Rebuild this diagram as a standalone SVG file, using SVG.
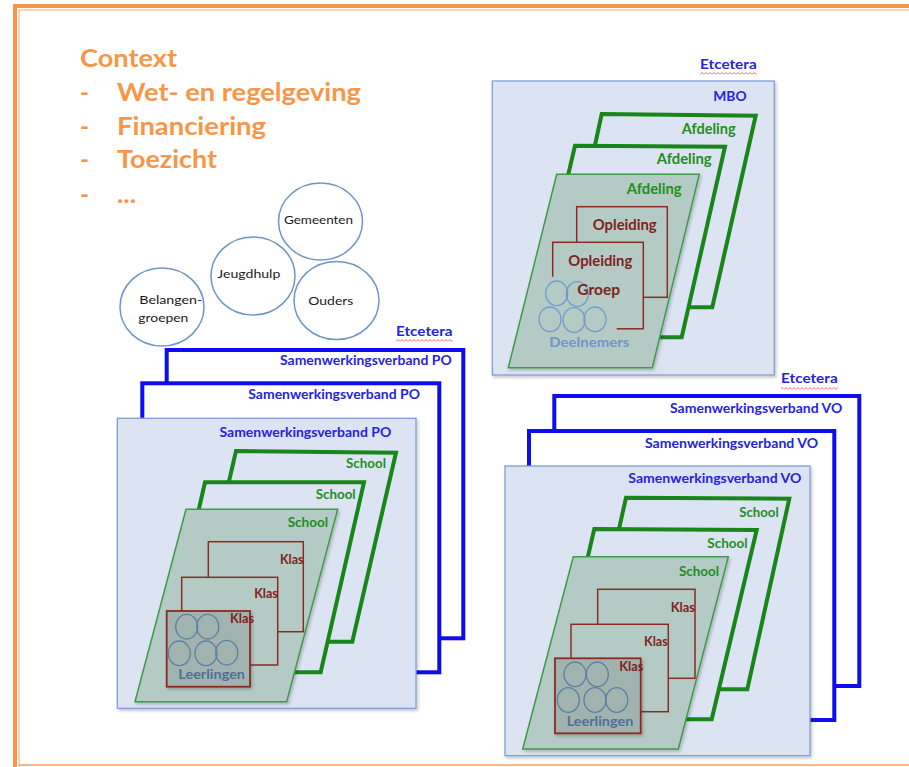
<svg xmlns="http://www.w3.org/2000/svg" width="909" height="767" viewBox="0 0 909 767">
<defs>
<filter id="sh" x="-5%" y="-5%" width="115%" height="115%">
<feDropShadow dx="1.5" dy="2" stdDeviation="1.5" flood-color="#000" flood-opacity="0.22"/>
</filter>
<pattern id="wave" width="4" height="3" patternUnits="userSpaceOnUse">
<path d="M0,2.5 L2,0.5 L4,2.5" fill="none" stroke="#e33b3b" stroke-width="0.8"/>
</pattern>
</defs>
<style>
text{font-family:Lato,"Liberation Sans",sans-serif;}
.ctx{font-size:24px;font-weight:bold;fill:#f79646;}
.cl{font-size:12px;fill:#1a1a1a;}
.circ{fill:#fff;stroke:#6f95c8;stroke-width:1.5;}
.blue{fill:#fff;stroke:#0d0df0;stroke-width:4;}
.cont{fill:#dce3f3;stroke:#7f9fd3;stroke-width:1.3;}
.green{fill:#dce3f3;stroke:#19861a;stroke-width:4;}
.para{fill:#b4cac5;stroke:#3d9b4a;stroke-width:1.5;}
.red{fill:#b4cac5;stroke:#8c2b24;stroke-width:1.5;}
.redf{fill:#a0b3ae;stroke:#8c2b24;stroke-width:1.8;}
.stud{fill:none;stroke:#5a80a6;stroke-width:1.3;}
.studm{fill:none;stroke:#7399d0;stroke-width:1.3;}
.lb{font-size:12.5px;font-weight:bold;fill:#2424e0;}
.lg{font-size:13px;font-weight:bold;fill:#1f8f1f;}
.lgm{font-size:15px;font-weight:bold;fill:#1f8f1f;}
.lr{font-size:13px;font-weight:bold;fill:#7e2320;}
.lrm{font-size:15px;font-weight:bold;fill:#7e2320;}
.ll{font-size:13px;font-weight:bold;fill:#506f97;}
.ld{font-size:13px;font-weight:bold;fill:#6e95cc;}
.et{font-size:13px;font-weight:bold;fill:#2424e0;}
</style>
<rect width="909" height="767" fill="#fff"/>
<!-- frame -->
<g id="frame" fill="none">
<path d="M15,767 V6 H909" stroke="#f79646" stroke-width="4"/>
<path d="M19,767 V10 H909" stroke="#fcc79a" stroke-width="1.5"/>
<path d="M19,765 H909" stroke="#f9a060" stroke-width="1.5"/>
</g>
<!-- context -->
<g id="context">
<text class="ctx" x="80" y="67" textLength="97" lengthAdjust="spacingAndGlyphs">Context</text>
<text class="ctx" x="80" y="101">-</text>
<text class="ctx" x="117" y="101" textLength="244" lengthAdjust="spacingAndGlyphs">Wet- en regelgeving</text>
<text class="ctx" x="80" y="135">-</text>
<text class="ctx" x="117" y="135" textLength="149" lengthAdjust="spacingAndGlyphs">Financiering</text>
<text class="ctx" x="80" y="168">-</text>
<text class="ctx" x="117" y="168" textLength="100" lengthAdjust="spacingAndGlyphs">Toezicht</text>
<text class="ctx" x="80" y="203">-</text>
<text class="ctx" x="117" y="203" textLength="19" lengthAdjust="spacingAndGlyphs">...</text>
</g>
<!-- stakeholders -->
<g id="gemeenten">
<ellipse class="circ" cx="320.5" cy="221.5" rx="42" ry="38.5"/>
<text class="cl" x="284" y="224.3" textLength="69" lengthAdjust="spacingAndGlyphs">Gemeenten</text>
</g>
<g id="jeugdhulp">
<ellipse class="circ" cx="253" cy="276" rx="42" ry="39"/>
<text class="cl" x="217.3" y="278.3" textLength="63" lengthAdjust="spacingAndGlyphs">Jeugdhulp</text>
</g>
<g id="ouders">
<ellipse class="circ" cx="336.5" cy="300.5" rx="42.5" ry="39"/>
<text class="cl" x="308.3" y="305" textLength="45" lengthAdjust="spacingAndGlyphs">Ouders</text>
</g>
<g id="belangengroepen">
<ellipse class="circ" cx="162" cy="307" rx="42" ry="39"/>
<text class="cl" x="139.3" y="304" textLength="63" lengthAdjust="spacingAndGlyphs">Belangen-</text>
<text class="cl" x="138.3" y="321.5" textLength="50" lengthAdjust="spacingAndGlyphs">groepen</text>
</g>
<!-- PO -->
<g id="po">
<text class="et" x="396" y="336" textLength="56.5" lengthAdjust="spacingAndGlyphs">Etcetera</text>
<rect x="396" y="339" width="57" height="3" fill="url(#wave)"/>
<rect class="blue" x="166.7" y="350" width="296.6" height="288.3"/>
<text class="lb" x="280" y="365" textLength="171.7" lengthAdjust="spacingAndGlyphs">Samenwerkingsverband PO</text>
<rect class="blue" x="142.3" y="383.3" width="297" height="289"/>
<text class="lb" x="248.3" y="399" textLength="171.7" lengthAdjust="spacingAndGlyphs">Samenwerkingsverband PO</text>
<rect class="cont" filter="url(#sh)" x="117.3" y="418.3" width="298.7" height="290"/>
<text class="lb" x="219.5" y="436.7" textLength="171.7" lengthAdjust="spacingAndGlyphs">Samenwerkingsverband PO</text>
<polygon class="green" points="236,451 396,452.7 352.3,641.7 192,641.7"/>
<text class="lg" x="346" y="468.3" textLength="40" lengthAdjust="spacingAndGlyphs">School</text>
<polygon class="green" points="205,482.3 364,482.3 320.7,672.3 161.7,672.3"/>
<text class="lg" x="315.7" y="499" textLength="40" lengthAdjust="spacingAndGlyphs">School</text>
<polygon class="para" filter="url(#sh)" points="186,509.3 337.7,509.3 286.7,701.7 135,701.7"/>
<text class="lg" x="287.7" y="527.3" textLength="40.5" lengthAdjust="spacingAndGlyphs">School</text>
<rect class="red" x="208.3" y="541.7" width="95" height="90"/>
<text class="lr" x="280" y="564.3" textLength="23.5" lengthAdjust="spacingAndGlyphs">Klas</text>
<rect class="red" x="181.7" y="577.3" width="96" height="87.7"/>
<text class="lr" x="254.3" y="598.3" textLength="23.5" lengthAdjust="spacingAndGlyphs">Klas</text>
<rect class="redf" filter="url(#sh)" x="166.7" y="611" width="83.3" height="75.7"/>
<text class="lr" x="230" y="623.3" textLength="24" lengthAdjust="spacingAndGlyphs">Klas</text>
<ellipse class="stud" cx="186.7" cy="626.7" rx="11" ry="12.3"/>
<ellipse class="stud" cx="207.7" cy="626.7" rx="11" ry="12.3"/>
<ellipse class="stud" cx="179.3" cy="653.3" rx="11" ry="12.3"/>
<ellipse class="stud" cx="206" cy="653.3" rx="11" ry="12.3"/>
<ellipse class="stud" cx="226.7" cy="652.7" rx="11" ry="12.3"/>
<text class="ll" x="178.3" y="679.3" textLength="66.7" lengthAdjust="spacingAndGlyphs">Leerlingen</text>
</g>
<!-- VO -->
<g id="vo">
<text class="et" x="781" y="383.3" textLength="56.7" lengthAdjust="spacingAndGlyphs">Etcetera</text>
<rect x="781" y="387" width="57" height="3" fill="url(#wave)"/>
<rect class="blue" x="554.3" y="396" width="305" height="290"/>
<text class="lb" x="670" y="413.3" textLength="172.3" lengthAdjust="spacingAndGlyphs">Samenwerkingsverband VO</text>
<rect class="blue" x="529" y="431" width="305.3" height="289"/>
<text class="lb" x="645" y="448.3" textLength="173" lengthAdjust="spacingAndGlyphs">Samenwerkingsverband VO</text>
<rect class="cont" filter="url(#sh)" x="505" y="466" width="305" height="289.7"/>
<text class="lb" x="628.3" y="483.3" textLength="173" lengthAdjust="spacingAndGlyphs">Samenwerkingsverband VO</text>
<polygon class="green" points="626,497.7 789.3,498.7 747.3,689.3 583,689.3"/>
<text class="lg" x="739.3" y="516.7" textLength="39.4" lengthAdjust="spacingAndGlyphs">School</text>
<polygon class="green" points="594.3,529 756.7,530 711.7,719.3 550,719.3"/>
<text class="lg" x="707.3" y="547.7" textLength="40.4" lengthAdjust="spacingAndGlyphs">School</text>
<polygon class="para" filter="url(#sh)" points="573.3,556.7 728.3,556.7 678.3,749 522.7,749"/>
<text class="lg" x="679" y="575.7" textLength="40" lengthAdjust="spacingAndGlyphs">School</text>
<rect class="red" x="597.7" y="589.3" width="97.3" height="89"/>
<text class="lr" x="670.7" y="611.7" textLength="24.3" lengthAdjust="spacingAndGlyphs">Klas</text>
<rect class="red" x="571" y="624.3" width="97.3" height="87.4"/>
<text class="lr" x="644" y="646" textLength="23.7" lengthAdjust="spacingAndGlyphs">Klas</text>
<rect class="redf" filter="url(#sh)" x="555" y="658.3" width="85.7" height="75"/>
<text class="lr" x="619.3" y="671" textLength="24" lengthAdjust="spacingAndGlyphs">Klas</text>
<ellipse class="stud" cx="575" cy="674.3" rx="11" ry="12.3"/>
<ellipse class="stud" cx="597.3" cy="674.3" rx="11" ry="12.3"/>
<ellipse class="stud" cx="568.3" cy="700" rx="11" ry="12.3"/>
<ellipse class="stud" cx="595" cy="700" rx="11" ry="12.3"/>
<ellipse class="stud" cx="616.7" cy="700" rx="11" ry="12.3"/>
<text class="ll" x="566.7" y="726" textLength="66.6" lengthAdjust="spacingAndGlyphs">Leerlingen</text>
</g>
<!-- MBO -->
<g id="mbo">
<text class="et" x="700" y="69.3" textLength="56.7" lengthAdjust="spacingAndGlyphs">Etcetera</text>
<rect x="700" y="72" width="57" height="3" fill="url(#wave)"/>
<rect class="cont" filter="url(#sh)" x="492.3" y="81" width="282" height="294"/>
<text class="lb" x="713.3" y="101" style="font-size:13px" textLength="33.3" lengthAdjust="spacingAndGlyphs">MBO</text>
<polygon class="green" points="601.7,114 755.7,115.7 712.3,307.3 560,307.3"/>
<text class="lgm" x="681.7" y="134.3" textLength="54" lengthAdjust="spacingAndGlyphs">Afdeling</text>
<polygon class="green" points="575,145.7 725,146.7 681.7,337.3 530,337.3"/>
<text class="lgm" x="656.7" y="164" textLength="55" lengthAdjust="spacingAndGlyphs">Afdeling</text>
<polygon class="para" filter="url(#sh)" points="556.7,174.3 699.3,174.3 652.3,367.7 508.3,367.7"/>
<text class="lgm" x="626.7" y="194" textLength="55" lengthAdjust="spacingAndGlyphs">Afdeling</text>
<rect class="red" x="576.7" y="206.7" width="90.6" height="90.6"/>
<text class="lrm" x="592.7" y="230" textLength="64" lengthAdjust="spacingAndGlyphs">Opleiding</text>
<rect class="red" x="552.7" y="242.3" width="90.6" height="86.5"/>
<text class="lrm" x="568.3" y="266" textLength="64" lengthAdjust="spacingAndGlyphs">Opleiding</text>
<rect x="545" y="276.7" width="71.7" height="60" fill="#b4cac5"/>
<ellipse class="studm" cx="556.7" cy="293.3" rx="11" ry="12.3"/>
<ellipse class="studm" cx="577.3" cy="294" rx="11" ry="12.3"/>
<ellipse class="studm" cx="550" cy="319.3" rx="11" ry="12.3"/>
<ellipse class="studm" cx="574" cy="320" rx="11" ry="12.3"/>
<ellipse class="studm" cx="595" cy="319.3" rx="11" ry="12.3"/>
<text class="lrm" x="577.3" y="295" textLength="42.7" lengthAdjust="spacingAndGlyphs">Groep</text>
<text class="ld" x="549.3" y="346.7" textLength="80" lengthAdjust="spacingAndGlyphs">Deelnemers</text>
</g>
</svg>
